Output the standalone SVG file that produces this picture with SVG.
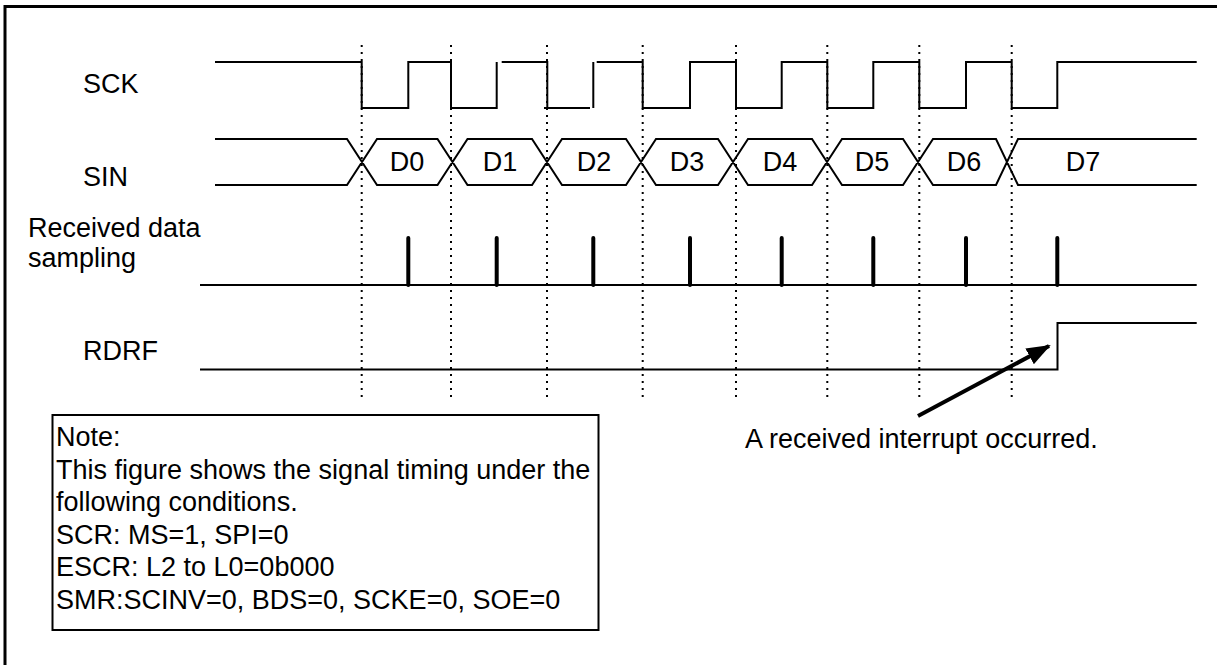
<svg xmlns="http://www.w3.org/2000/svg" width="1217" height="665" viewBox="0 0 1217 665">
<style>
text{font-family:"Liberation Sans",Arial,sans-serif;font-size:27px;fill:#000}
.w{fill:none;stroke:#000;stroke-width:2}
.dot{fill:none;stroke:#000;stroke-width:2;stroke-dasharray:2 5}
.p{stroke:#000;stroke-width:4;stroke-linecap:round}
</style>
<defs>
<marker id="ah" markerUnits="userSpaceOnUse" markerWidth="26" markerHeight="22" refX="22" refY="11" orient="auto">
<path d="M0,2 L24,11 L0,20 z" fill="#000"/>
</marker>
</defs>
<rect x="5" y="6.5" width="1300" height="700" fill="none" stroke="#000" stroke-width="3"/>
<g id="grid">
<path class="dot" d="M361.7,45V400M451,45V400M547,45V400M642.7,45V400M736,45V400M827.3,45V400M919.3,45V400M1011.7,45V400"/>
</g>
<g id="sck">
<text x="83" y="93">SCK</text>
<path class="w" d="M215,62H361.7V108H408.3V62H451V108H496.7V62M501.7,62H547.3V108M544,108H590M593.3,108V62M596.7,62H642.7V108H690V62H736V108H781.7V62H827.3V108H873.3V62H919.3V108H966V62H1011.7V108H1057.3V62H1196.7"/>
</g>
<g id="sin">
<text x="83" y="186">SIN</text>
<path class="w" d="M215,139H347L377,185H437.5L467.5,139H532L562,185H626L656,139H718L748,185H812L842,139H903L933,185H996L1018,139H1196.7M215,185H347L377,139H437.5L467.5,185H532L562,139H626L656,185H718L748,139H812L842,185H903L933,139H996L1018,185H1196.7"/>
<g text-anchor="middle">
<text x="407" y="171">D0</text><text x="500" y="171">D1</text><text x="594" y="171">D2</text><text x="687" y="171">D3</text>
<text x="780" y="171">D4</text><text x="872" y="171">D5</text><text x="964" y="171">D6</text><text x="1083" y="171">D7</text>
</g>
</g>
<g id="sampling">
<text x="28" y="237">Received data</text>
<text x="28" y="267">sampling</text>
<path class="w" d="M200,285H1196.7"/>
<path class="p" d="M408.3,238V285M496.7,238V285M593.3,238V285M690,238V285M781.7,238V285M873.3,238V285M966,238V285M1057.3,238V285"/>
</g>
<g id="rdrf">
<text x="83" y="360">RDRF</text>
<path class="w" d="M200,369.5H1057.5V323H1196.7"/>
</g>
<g id="connectors">
<line x1="918" y1="416" x2="1049" y2="346" stroke="#000" stroke-width="4" marker-end="url(#ah)"/>
</g>
<g id="annotation">
<text x="745" y="448">A received interrupt occurred.</text>
</g>
<g id="note">
<rect x="52.5" y="415" width="546" height="215" fill="#fff" stroke="#000" stroke-width="2"/>
<text x="56" y="446">Note:</text>
<text x="56" y="478.5">This figure shows the signal timing under the</text>
<text x="56" y="511">following conditions.</text>
<text x="56" y="543.5">SCR: MS=1, SPI=0</text>
<text x="56" y="576">ESCR: L2 to L0=0b000</text>
<text x="56" y="608.5">SMR:SCINV=0, BDS=0, SCKE=0, SOE=0</text>
</g>
</svg>
